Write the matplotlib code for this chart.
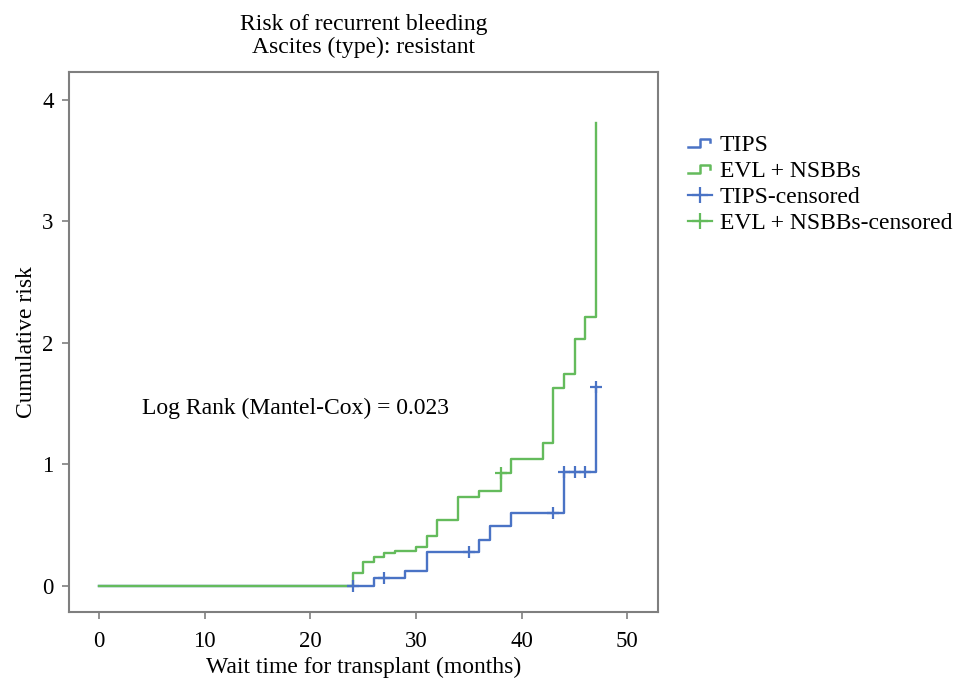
import numpy as np
import matplotlib
matplotlib.use("Agg")
import matplotlib.pyplot as plt
from matplotlib.lines import Line2D
from matplotlib.legend_handler import HandlerBase

plt.rcParams['font.family'] = ['Liberation Serif', 'DejaVu Serif']

# TIPS step data (time in months, cumulative risk after event)
tips_t = [0, 24, 26, 29, 31, 36, 37, 39, 44, 47]
tips_y = [0, 0, 0.063, 0.126, 0.28, 0.38, 0.49, 0.60, 0.94, 1.64]
tips_cens_t = [24, 27, 35, 43, 44, 45, 46, 47]
tips_cens_y = [0, 0.063, 0.28, 0.60, 0.94, 0.94, 0.94, 1.64]

# EVL + NSBBs step data
evl_t = [0, 24, 25, 26, 27, 28, 30, 31, 32, 34, 36, 38, 39, 42, 43, 44, 45, 46, 47]
evl_y = [0, 0.11, 0.20, 0.236, 0.27, 0.29, 0.32, 0.41, 0.54, 0.735, 0.785,
         0.93, 1.045, 1.18, 1.63, 1.745, 2.03, 2.21, 3.81]
evl_cens_t = [38]
evl_cens_y = [0.93]

blue = '#4a73c5'
green = '#64bb5c'

fig = plt.figure(figsize=(9.6, 6.79), dpi=100)
ax = fig.add_axes([69/960, 1-612/679, (658-69)/960, (612-72)/679])

ax.step(tips_t, tips_y, where='post', color=blue, lw=1.7)
ax.step(evl_t, evl_y, where='post', color=green, lw=1.7)
ax.plot(tips_cens_t, tips_cens_y, ls='none', marker='+', ms=8, mew=1.6, color=blue)
ax.plot(evl_cens_t, evl_cens_y, ls='none', marker='+', ms=8, mew=1.6, color=green)

ax.set_xlim(-2.84, 52.9)
ax.set_ylim(-0.214, 4.23)
ax.set_xticks([0, 10, 20, 30, 40, 50])
ax.set_yticks([0, 1, 2, 3, 4])
for s in ax.spines.values():
    s.set_color('#7f7f7f')
    s.set_linewidth(1.5)
ax.tick_params(direction='out', length=5, width=1.2, color='#7f7f7f',
               labelsize=16.5, labelcolor='black', pad=6)
ax.tick_params(axis='x', pad=9)

ax.set_xlabel('Wait time for transplant (months)', fontsize=17, labelpad=3)
ax.set_ylabel('Cumulative risk', fontsize=17, labelpad=4)
ax.set_title('Risk of recurrent bleeding\nAscites (type): resistant', fontsize=17,
             pad=14, linespacing=1.08)

ax.text(4.07, 1.465, 'Log Rank (Mantel-Cox) = 0.023', fontsize=17, ha='left', va='center')


class StepHandler(HandlerBase):
    def create_artists(self, legend, orig_handle, xdescent, ydescent, width,
                       height, fontsize, trans):
        xs = np.array([0.0, 0.5, 0.5, 0.95, 0.95]) * width - xdescent
        ys = np.array([0.2, 0.2, 0.7, 0.7, 0.5]) * height - ydescent
        ln = Line2D(xs, ys, color=orig_handle.get_color(), lw=1.8)
        ln.set_transform(trans)
        return [ln]


h1 = Line2D([], [], color=blue)
h2 = Line2D([], [], color=green)
h3 = Line2D([], [], color=blue, marker='+', ms=12, mew=1.6, lw=1.6)
h4 = Line2D([], [], color=green, marker='+', ms=12, mew=1.6, lw=1.6)
leg = fig.legend([h1, h2, h3, h4],
                 ['TIPS', 'EVL + NSBBs', 'TIPS-censored', 'EVL + NSBBs-censored'],
                 loc='upper left', bbox_to_anchor=(688/960, 1-134/679),
                 frameon=False, fontsize=17, handlelength=1.0, handletextpad=0.35,
                 labelspacing=0.2, borderaxespad=0, borderpad=0,
                 handler_map={h1: StepHandler(), h2: StepHandler()})

fig.savefig('out.png', dpi=100)
